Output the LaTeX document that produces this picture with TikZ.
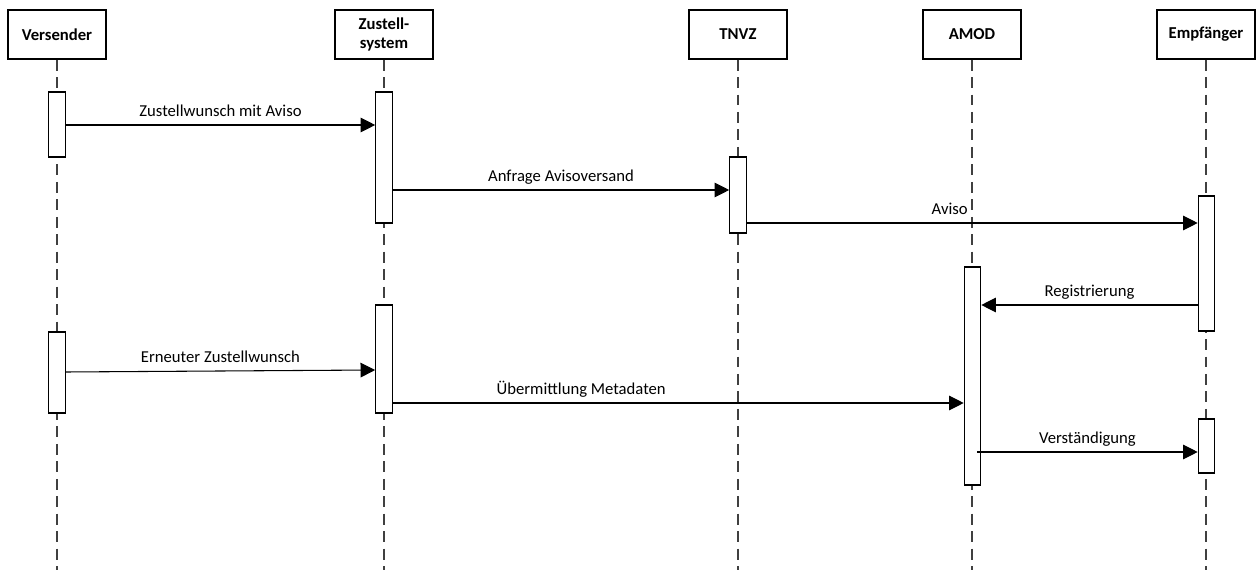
\documentclass[tikz,border=0pt]{standalone}
\usepackage{fontspec}
\setmainfont{Carlito}
\usetikzlibrary{arrows.meta}
\tikzset{
  head/.style={draw, line width=0.9pt, minimum width=73.5pt, minimum height=36.75pt,
    inner sep=1pt, align=center, font=\bfseries\fontsize{12.5}{14}\selectfont},
  act/.style={draw, fill=white, line width=0.8pt, minimum width=12.4pt, inner sep=0pt},
  life/.style={draw=black!75, line width=0.9pt, dash pattern=on 8.2pt off 4.9pt},
  msg/.style={-{Triangle[length=11pt,width=11pt]}, line width=0.8pt},
  lbl/.style={anchor=base, yshift=6pt, font=\fontsize{12.5}{14}\selectfont}
}
\begin{document}
\begin{tikzpicture}[x=0.75pt,y=-0.75pt]
    \useasboundingbox (0,0) rectangle (1258,570);
    % Lifeline heads.
    \node[head] (vs) at (57,34.5) {Versender};
    \node[head] (zs) at (384,34.5) {Zustell-\\system};
    \node[head] (tn) at (738,34.5) {TNVZ};
    \node[head] (am) at (972,34.5) {AMOD};
    \node[head] (em) at (1206,34.5) {Empfänger};
    \foreach \p in {vs,zs,tn,am,em}
        \draw[life] (\p.south) -- (\p.south |- 0,570);
    % Activation bars.
    \node[act, minimum height=48.75pt] (vs1) at (57,124.5) {};
    \node[act, minimum height=98.25pt] (zs1) at (384,157.5) {};
    \node[act, minimum height=57pt] (tn1) at (738,195) {};
    \node[act, minimum height=101.25pt] (em1) at (1206.5,263.5) {};
    \node[act, minimum height=163.5pt] (am1) at (972.5,376) {};
    \node[act, minimum height=81pt] (zs2) at (384,359) {};
    \node[act, minimum height=60.75pt] (vs2) at (57,372.5) {};
    \node[act, minimum height=40.5pt] (em2) at (1206.5,446) {};
    % Messages.
    \draw[msg] (vs1.east |- 0,125) -- node[lbl] {Zustellwunsch mit Aviso} (zs1.west |- 0,125);
    \draw[msg] (zs1.east |- 0,190) -- node[lbl] {Anfrage Avisoversand} (tn1.west |- 0,190);
    \draw[msg] (tn1.east |- 0,223) -- node[lbl, pos=0.45] {Aviso} (em1.west |- 0,223);
    \draw[msg] (em1.west |- 0,305) -- node[lbl] {Registrierung} (am1.east |- 0,305);
    \draw[msg] (vs2.east |- 0,372) -- node[lbl] {Erneuter Zustellwunsch} (zs2.west |- 0,370);
    \draw[msg] (zs2.east |- 0,403) -- node[lbl, pos=0.33] {Übermittlung Metadaten} (am1.west |- 0,403);
    \draw[msg] ([xshift=-3pt]am1.east |- 0,452) -- node[lbl] {Verständigung} (em2.west |- 0,452);
\end{tikzpicture}
\end{document}
